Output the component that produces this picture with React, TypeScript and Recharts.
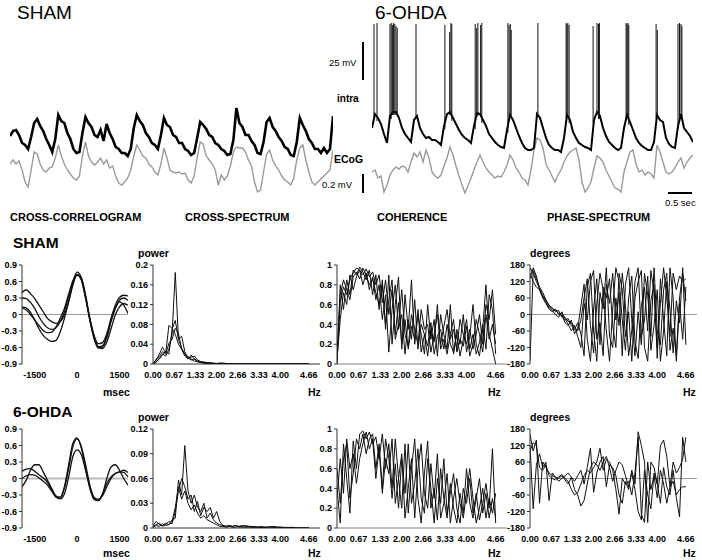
import React from "react";
import { LineChart, Line, XAxis, YAxis, ReferenceLine } from "recharts";

const FONT = "'Liberation Sans', Arial, Helvetica, sans-serif";

// ---------- top recordings (height above the trace floor) ----------
const SHAM_INTRA = [
  64, 69, 70, 65, 57, 55, 51, 63, 77, 81,
  74, 69, 61, 55, 48, 61, 85, 79, 77, 67,
  61, 51, 47, 48, 67, 83, 77, 73, 65, 63,
  70, 59, 76, 67, 61, 53, 51, 47, 47, 44,
  51, 72, 85, 79, 75, 67, 63, 57, 55, 51,
  65, 82, 75, 73, 65, 63, 57, 57, 51, 49,
  45, 47, 62, 78, 75, 71, 65, 63, 57, 55,
  51, 49, 45, 46, 60, 92, 77, 73, 65, 65,
  59, 55, 47, 46, 58, 78, 82, 73, 69, 63,
  59, 53, 51, 45, 44, 58, 82, 75, 69, 61,
  57, 51, 51, 47, 52, 47, 51, 84,
];
const SHAM_ECOG = [
  36, 40, 36, 39, 30, 18, 13, 30, 48, 46,
  36, 30, 28, 32, 33, 42, 55, 44, 36, 30,
  26, 22, 20, 24, 44, 58, 44, 38, 35, 38,
  42, 36, 40, 32, 34, 24, 17, 15, 18, 22,
  30, 44, 55, 50, 44, 42, 36, 33, 28, 25,
  36, 52, 42, 30, 28, 27, 28, 26, 27, 20,
  17, 24, 42, 58, 56, 44, 40, 36, 30, 15,
  25, 20, 24, 34, 48, 53, 52, 52, 48, 40,
  34, 18, 8, 10, 28, 46, 50, 40, 34, 30,
  24, 20, 18, 15, 22, 40, 52, 55, 40, 28,
  18, 15, 18, 21, 24, 27, 30, 50,
];
const OHDA_INTRA = [
  72, 86, 82, 76, 66, 57, 84, 88, 88, 82,
  72, 66, 62, 58, 80, 84, 72, 66, 62, 63,
  60, 60, 58, 55, 74, 86, 88, 82, 76, 70,
  65, 62, 60, 57, 74, 87, 86, 80, 74, 66,
  62, 58, 55, 53, 52, 70, 85, 80, 72, 64,
  57, 52, 50, 50, 52, 86, 82, 72, 62, 55,
  52, 50, 50, 48, 62, 85, 80, 68, 62, 57,
  55, 53, 52, 50, 80, 88, 84, 72, 64, 58,
  55, 52, 50, 52, 72, 85, 78, 70, 62, 57,
  54, 52, 50, 50, 58, 85, 80, 78, 62, 56,
  53, 52, 74, 86, 72, 68, 64, 58,
];
const OHDA_ECOG = [
  28, 30, 22, 24, 8, 15, 25, 30, 33, 31,
  34, 33, 28, 38, 47, 43, 48, 38, 50, 42,
  28, 24, 22, 25, 34, 42, 53, 45, 34, 24,
  15, 7, 14, 22, 30, 38, 45, 38, 32, 28,
  25, 22, 24, 23, 28, 35, 45, 40, 32, 28,
  22, 20, 15, 30, 50, 62, 60, 52, 36, 30,
  24, 18, 25, 30, 38, 44, 48, 50, 52, 40,
  18, 8, 12, 18, 32, 44, 42, 38, 30, 24,
  18, 12, 11, 8, 28, 38, 48, 50, 36, 28,
  30, 25, 28, 26, 22, 55, 48, 38, 28, 26,
  28, 32, 38, 42, 32, 38, 42, 45,
];
const SPIKE_X = [
  0.67, 1.67, 6.0, 6.4, 6.8, 7.2, 7.6, 8.0, 8.4, 14.67,
  24.3, 25.9, 26.3, 26.6, 34.4, 34.9, 35.3, 36.2, 36.6, 45.3,
  45.7, 46.1, 46.4, 55.3, 64.7, 65.0, 65.3, 65.7, 73.7, 75.0,
  75.5, 75.8, 84.7, 85.0, 85.3, 85.6, 94.7, 95.1, 102.0, 102.5,
  103.0, 103.3,
];
const SPIKE_TOP = [
  176, 177, 176, 177, 175, 177, 176, 174, 172, 176,
  175, 168, 177, 176, 176, 172, 177, 175, 177, 177,
  175, 176, 170, 177, 177, 176, 177, 175, 174, 177,
  176, 177, 177, 176, 177, 175, 176, 170, 176, 177,
  176, 174,
];

// ---------- cross-correlograms ----------
const LAGS = [
  -1950, -1800, -1650, -1500, -1350, -1200, -1050, -900, -750, -600,
  -450, -300, -150, 0, 150, 300, 450, 600, 750, 900,
  1050, 1200, 1350, 1500, 1650, 1800,
];
const LAG_TICKS = [-1500, 0, 1500];
const CORR_SHAM = [
  [0.4, 0.45, 0.38, 0.29, 0.17, 0.05, -0.07, -0.13, -0.16, -0.13, -0.01, 0.23, 0.54, 0.73, 0.63, 0.29, -0.07, -0.38, -0.53, -0.51, -0.35, -0.07, 0.17, 0.31, 0.35, 0.34],
  [0.3, 0.29, 0.22, 0.11, -0.04, -0.16, -0.24, -0.27, -0.24, -0.13, 0.05, 0.32, 0.6, 0.77, 0.67, 0.32, -0.1, -0.41, -0.59, -0.57, -0.41, -0.13, 0.11, 0.26, 0.3, 0.26],
  [0.14, 0.12, 0.04, -0.1, -0.26, -0.38, -0.45, -0.49, -0.47, -0.32, -0.07, 0.23, 0.55, 0.72, 0.66, 0.35, -0.07, -0.41, -0.59, -0.62, -0.5, -0.26, -0.01, 0.14, 0.2, 0.17],
  [0.12, 0.08, 0.0, -0.1, -0.2, -0.29, -0.33, -0.32, -0.23, -0.07, 0.11, 0.37, 0.61, 0.71, 0.63, 0.31, -0.1, -0.44, -0.61, -0.59, -0.41, -0.1, 0.11, 0.23, 0.17, 0.02],
];
const CORR_OHDA = [
  [0.13, 0.17, 0.18, 0.13, 0.07, 0.01, -0.07, -0.21, -0.34, -0.36, -0.18, 0.18, 0.58, 0.72, 0.58, 0.25, -0.12, -0.34, -0.38, -0.31, -0.15, 0.0, 0.09, 0.12, 0.15, 0.11],
  [-0.15, -0.03, 0.15, 0.25, 0.25, 0.12, -0.03, -0.18, -0.32, -0.37, -0.28, 0.03, 0.4, 0.52, 0.43, 0.15, -0.15, -0.37, -0.4, -0.28, 0.0, 0.21, 0.25, 0.15, 0.0, -0.12],
  [0.0, 0.05, 0.07, 0.06, 0.01, -0.05, -0.12, -0.23, -0.32, -0.34, -0.15, 0.25, 0.64, 0.74, 0.55, 0.18, -0.18, -0.38, -0.4, -0.28, -0.09, 0.03, 0.09, 0.12, 0.11, 0.03],
];

// ---------- frequency domain ----------
const FREQS = [
  0, 0.1, 0.2, 0.3, 0.4, 0.5, 0.6, 0.7, 0.8, 0.9,
  1.0, 1.1, 1.2, 1.3, 1.4, 1.5, 1.6, 1.7, 1.8, 1.9,
  2.0, 2.1, 2.2, 2.3, 2.4, 2.5, 2.6, 2.7, 2.8, 2.9,
  3.0, 3.1, 3.2, 3.3, 3.4, 3.5, 3.6, 3.7, 3.8, 3.9,
  4.0, 4.1, 4.2, 4.3, 4.4, 4.5, 4.6, 4.7, 4.8, 4.9,
];
const FREQ_TICKS = [0, 0.667, 1.333, 2.0, 2.667, 3.333, 4.0, 4.9];
const FREQ_LABELS = ["0.00", "0.67", "1.33", "2.00", "2.66", "3.33", "4.00", "4.66"];

const SPEC_SHAM = [
  [0, 0.004, 0.01, 0.02, 0.016, 0.03, 0.06, 0.185, 0.05, 0.032, 0.02, 0.012, 0.014, 0.016, 0.008, 0.005, 0.004, 0.003, 0.002, 0.002, 0.001, 0.001, 0.002, 0.001, 0.001, 0.001, 0.001, 0, 0.001, 0, 0.001, 0, 0, 0.001, 0, 0, 0, 0.001, 0, 0, 0, 0, 0.001, 0, 0, 0, 0, 0, 0, 0],
  [0, 0.008, 0.02, 0.034, 0.022, 0.078, 0.072, 0.06, 0.04, 0.03, 0.016, 0.01, 0.018, 0.01, 0.006, 0.004, 0.003, 0.002, 0.002, 0.001, 0.001, 0.002, 0.001, 0.001, 0, 0.001, 0, 0.001, 0, 0, 0, 0.001, 0, 0, 0, 0, 0.001, 0, 0, 0, 0, 0, 0, 0, 0, 0.001, 0, 0, 0, 0],
  [0, 0.004, 0.012, 0.018, 0.026, 0.02, 0.07, 0.088, 0.05, 0.056, 0.025, 0.012, 0.008, 0.01, 0.006, 0.004, 0.002, 0.003, 0.001, 0.001, 0.001, 0.001, 0, 0.001, 0, 0, 0.001, 0, 0, 0, 0, 0, 0.001, 0, 0, 0, 0, 0, 0, 0, 0, 0, 0, 0, 0, 0, 0, 0, 0, 0],
  [0, 0.01, 0.015, 0.025, 0.02, 0.042, 0.05, 0.072, 0.062, 0.03, 0.02, 0.015, 0.01, 0.006, 0.004, 0.003, 0.002, 0.001, 0.002, 0.001, 0.001, 0, 0.001, 0, 0, 0.001, 0, 0, 0, 0, 0, 0, 0, 0, 0.001, 0, 0, 0, 0, 0, 0, 0, 0, 0, 0, 0, 0, 0, 0, 0],
];
const SPEC_OHDA = [
  [0.003, 0.008, 0.004, 0.003, 0.006, 0.004, 0.01, 0.012, 0.058, 0.04, 0.1, 0.045, 0.03, 0.04, 0.025, 0.02, 0.03, 0.012, 0.018, 0.01, 0.006, 0.004, 0.003, 0.002, 0.003, 0.002, 0.003, 0.002, 0.003, 0.002, 0.002, 0.001, 0.002, 0.001, 0.001, 0.001, 0.001, 0.002, 0.001, 0.001, 0.001, 0, 0.001, 0, 0.001, 0, 0, 0, 0, 0],
  [0.002, 0.004, 0.006, 0.002, 0.004, 0.008, 0.005, 0.02, 0.045, 0.06, 0.05, 0.035, 0.04, 0.02, 0.032, 0.015, 0.025, 0.02, 0.025, 0.012, 0.02, 0.008, 0.003, 0.002, 0.003, 0.002, 0.003, 0.001, 0.002, 0.003, 0.002, 0.002, 0.001, 0.001, 0.002, 0.001, 0.001, 0.001, 0.002, 0.001, 0.001, 0.001, 0, 0.001, 0, 0, 0, 0, 0, 0],
  [0.001, 0.003, 0.002, 0.005, 0.003, 0.004, 0.008, 0.025, 0.05, 0.035, 0.045, 0.03, 0.022, 0.028, 0.018, 0.012, 0.015, 0.01, 0.008, 0.006, 0.004, 0.002, 0.002, 0.001, 0.002, 0.001, 0.001, 0.002, 0.001, 0.001, 0.001, 0.001, 0, 0.001, 0, 0.001, 0, 0, 0.001, 0, 0, 0, 0, 0, 0, 0, 0, 0, 0, 0],
];

const COH_SHAM = [
  [0.02, 0.62, 0.78, 0.7, 0.86, 0.92, 0.97, 0.95, 0.9, 0.96, 0.88, 0.93, 0.8, 0.9, 0.62, 0.85, 0.5, 0.75, 0.3, 0.62, 0.2, 0.45, 0.15, 0.38, 0.25, 0.55, 0.12, 0.3, 0.18, 0.42, 0.1, 0.28, 0.35, 0.15, 0.4, 0.2, 0.12, 0.3, 0.08, 0.25, 0.45, 0.15, 0.3, 0.1, 0.22, 0.4, 0.15, 0.7, 0.55, 0.1],
  [0.0, 0.8, 0.55, 0.85, 0.7, 0.95, 0.9, 0.98, 0.93, 0.85, 0.95, 0.7, 0.9, 0.55, 0.85, 0.35, 0.9, 0.2, 0.6, 0.88, 0.15, 0.7, 0.35, 0.85, 0.2, 0.5, 0.3, 0.1, 0.6, 0.25, 0.45, 0.08, 0.5, 0.3, 0.15, 0.6, 0.1, 0.35, 0.2, 0.5, 0.12, 0.28, 0.6, 0.2, 0.08, 0.35, 0.8, 0.3, 0.15, 0.0],
  [0.05, 0.45, 0.72, 0.6, 0.9, 0.75, 0.88, 0.95, 0.8, 0.92, 0.75, 0.88, 0.65, 0.8, 0.45, 0.7, 0.12, 0.55, 0.8, 0.35, 0.5, 0.1, 0.45, 0.25, 0.65, 0.15, 0.4, 0.3, 0.08, 0.35, 0.22, 0.6, 0.15, 0.25, 0.1, 0.3, 0.45, 0.12, 0.25, 0.18, 0.38, 0.08, 0.2, 0.45, 0.3, 0.12, 0.5, 0.25, 0.4, 0.2],
  [0.1, 0.7, 0.85, 0.75, 0.65, 0.88, 0.93, 0.86, 0.97, 0.9, 0.8, 0.86, 0.72, 0.6, 0.8, 0.4, 0.65, 0.85, 0.25, 0.4, 0.75, 0.3, 0.18, 0.5, 0.35, 0.2, 0.55, 0.35, 0.4, 0.12, 0.3, 0.5, 0.2, 0.38, 0.55, 0.25, 0.35, 0.15, 0.45, 0.3, 0.2, 0.35, 0.15, 0.3, 0.5, 0.2, 0.6, 0.45, 0.75, 0.3],
];
const COH_OHDA = [
  [0.4, 0.05, 0.85, 0.5, 0.15, 0.88, 0.6, 0.95, 0.98, 0.9, 0.97, 0.85, 0.92, 0.7, 0.95, 0.6, 0.85, 0.4, 0.9, 0.5, 0.2, 0.85, 0.15, 0.6, 0.9, 0.3, 0.05, 0.55, 0.88, 0.2, 0.4, 0.08, 0.6, 0.3, 0.1, 0.45, 0.2, 0.05, 0.35, 0.15, 0.6, 0.25, 0.1, 0.3, 0.5, 0.15, 0.35, 0.1, 0.3, 0.1],
  [0.6, 0.25, 0.7, 0.85, 0.3, 0.55, 0.9, 0.8, 0.95, 0.75, 0.9, 0.95, 0.6, 0.85, 0.4, 0.9, 0.7, 0.3, 0.65, 0.2, 0.7, 0.35, 0.85, 0.25, 0.45, 0.8, 0.3, 0.15, 0.7, 0.4, 0.05, 0.5, 0.25, 0.7, 0.15, 0.35, 0.55, 0.2, 0.05, 0.4, 0.25, 0.5, 0.15, 0.35, 0.08, 0.25, 0.45, 0.2, 0.8, 0.05],
  [0.3, 0.7, 0.35, 0.9, 0.6, 0.75, 0.45, 0.7, 0.85, 0.97, 0.8, 0.9, 0.5, 0.8, 0.35, 0.7, 0.55, 0.9, 0.25, 0.5, 0.75, 0.1, 0.4, 0.7, 0.1, 0.6, 0.85, 0.35, 0.2, 0.65, 0.3, 0.75, 0.1, 0.25, 0.55, 0.05, 0.3, 0.5, 0.25, 0.1, 0.35, 0.6, 0.3, 0.05, 0.2, 0.4, 0.1, 0.3, 0.15, 0.35],
];

const PHASE_SHAM = [
  [170, 150, 120, 95, 70, 50, 35, 20, 15, 5, -5, -10, -25, -30, -45, -60, -20, 60, 130, -40, -140, 40, 150, 90, -60, -170, 20, 170, 120, -20, -130, 60, 140, -100, -160, 30, 100, -60, 160, 80, -120, 40, 170, 60, -80, 150, 90, 140, 120, 130],
  [-170, 160, 130, 100, 80, 55, 30, 25, 10, 15, -10, -20, -15, -40, -55, -30, -70, -150, 100, 150, -60, -170, 80, 20, 170, -80, -120, 60, -40, 150, 30, -150, -60, 120, 170, -80, -20, 140, -130, -40, 90, -170, -60, 120, 20, -140, 50, -30, 170, -110],
  [150, 120, 100, 90, 60, 40, 20, 10, 20, 0, 5, -30, -40, -20, -70, -50, 30, 110, -90, -170, 20, 130, -110, 100, 60, 130, -40, -120, 150, 90, -80, 10, -170, 60, 120, 160, -120, -170, 50, 110, -160, 130, -20, -150, 170, 60, -170, 40, -90, 100],
  [130, 170, 140, 90, 65, 45, 25, 15, 0, -10, 10, -15, -35, -60, -40, -80, -120, 40, -20, 120, 160, -90, -30, -150, 110, 40, 150, -20, 80, -150, 110, 170, -20, -150, 10, -110, 150, 70, -80, 170, -60, -110, 90, 150, -130, -50, -150, 60, 150, 50],
];
const PHASE_OHDA = [
  [160, 100, 140, -90, 60, 40, 20, 10, 5, 0, 10, -5, -20, 5, -40, -60, -100, -80, -20, 40, 60, 50, 30, 60, 80, 40, -10, 30, 60, 50, 10, -30, 20, -40, -120, -150, 30, -60, -110, 20, -20, -90, 40, -30, -60, 30, -70, -140, 150, 60],
  [100, 130, 120, 40, 30, 50, 10, 0, -5, 5, 15, 0, -10, -40, -60, -50, -20, 10, 30, 20, 40, 60, 110, 30, 70, 60, 30, -40, -130, 0, -20, -10, -60, 20, 150, -130, -160, 60, -40, 10, -70, 30, -20, -90, -30, -10, -60, -40, -30, -30],
  [120, -110, 50, 90, 40, 60, -80, 20, 5, -10, 0, 10, 20, 5, -10, 10, 30, -20, 40, 110, -50, 20, 60, 80, -30, 50, 40, 10, -60, -90, -10, -40, 30, -20, 170, 120, 60, -160, 60, 40, -20, 120, 140, 80, -30, 60, 20, 40, 70, 150],
];

const CORR_TICKS = [-0.9, -0.6, -0.3, 0, 0.3, 0.6, 0.9];
const SPEC_SHAM_TICKS = [0, 0.04, 0.08, 0.12, 0.16, 0.2];
const SPEC_OHDA_TICKS = [0, 0.03, 0.06, 0.09, 0.12];
const COH_TICKS = [0, 0.2, 0.4, 0.6, 0.8, 1];
const PHASE_TICKS = [-180, -120, -60, 0, 60, 120, 180];

const tickStyle = { fontSize: 9, fontWeight: 700, fill: "#000", fontFamily: FONT };
const YW = 34;

interface PanelProps {
  plotLeft: number;
  plotTop: number;
  plotW: number;
  xs: number[];
  series: number[][];
  xDomain: [number, number];
  xTicks: number[];
  xLabels: string[];
  yDomain: [number, number];
  yTicks: number[];
  zeroStroke: string;
  zeroWidth: number;
  curve: "linear" | "monotone";
  lineWidth: number;
}

function Panel(p: PanelProps) {
  const plotH = 99;
  const rows = p.xs.map((x, i) => {
    const r: Record<string, number> = { x };
    p.series.forEach((s, j) => (r["s" + j] = s[i]));
    return r;
  });
  return (
    <div style={{ position: "absolute", left: p.plotLeft - YW, top: p.plotTop - 4 }}>
      <LineChart
        width={YW + p.plotW + 4}
        height={4 + plotH + 24}
        data={rows}
        margin={{ top: 4, right: 4, bottom: 0, left: 0 }}
      >
        <XAxis
          dataKey="x"
          type="number"
          domain={p.xDomain}
          ticks={p.xTicks}
          interval={0}
          tickFormatter={(v: number) => p.xLabels[p.xTicks.indexOf(v)]}
          axisLine={false}
          tickLine={false}
          height={24}
          tick={tickStyle}
          allowDataOverflow
        />
        <YAxis
          type="number"
          domain={p.yDomain}
          ticks={p.yTicks}
          interval={0}
          width={YW}
          tickSize={3}
          tickMargin={2}
          axisLine={{ stroke: "#333" }}
          tickLine={{ stroke: "#333" }}
          tick={tickStyle}
          allowDataOverflow
        />
        <ReferenceLine y={0} stroke={p.zeroStroke} strokeWidth={p.zeroWidth} />
        {p.series.map((_, j) => (
          <Line
            key={j}
            dataKey={"s" + j}
            type={p.curve}
            stroke="#111"
            strokeWidth={p.lineWidth}
            dot={false}
            isAnimationActive={false}
          />
        ))}
      </LineChart>
    </div>
  );
}

function Txt({ x, base, size, bold, children }: { x: number; base: number; size: number; bold?: boolean; children: React.ReactNode }) {
  return (
    <div
      style={{
        position: "absolute",
        left: x,
        top: base - 0.85 * size,
        fontSize: size,
        lineHeight: 1,
        fontWeight: bold ? 700 : 400,
        fontFamily: FONT,
        whiteSpace: "nowrap",
        color: "#000",
      }}
    >
      {children}
    </div>
  );
}

function Bar({ x, y, w, h }: { x: number; y: number; w: number; h: number }) {
  return <div style={{ position: "absolute", left: x, top: y, width: w, height: h, background: "#000" }} />;
}

function Row({ top, corr, spec, specTicks, coh, phase }: { top: number; corr: number[][]; spec: number[][]; specTicks: number[]; coh: number[][]; phase: number[][] }) {
  const specMax = specTicks[specTicks.length - 1];
  const corrZero = top > 400 ? { s: "#bbb", w: 2 } : { s: "#999", w: 1 };
  return (
    <>
      <Panel plotLeft={22} plotTop={top} plotW={106} xs={LAGS} series={corr} xDomain={[-1950, 1800]} xTicks={LAG_TICKS} xLabels={LAG_TICKS.map(String)} yDomain={[-0.9, 0.9]} yTicks={CORR_TICKS} zeroStroke={corrZero.s} zeroWidth={corrZero.w} curve="monotone" lineWidth={1.3} />
      <Panel plotLeft={153} plotTop={top} plotW={167} xs={FREQS} series={spec} xDomain={[0, 5.25]} xTicks={FREQ_TICKS} xLabels={FREQ_LABELS} yDomain={[0, specMax]} yTicks={specTicks} zeroStroke="#333" zeroWidth={1} curve="linear" lineWidth={1} />
      <Panel plotLeft={337} plotTop={top} plotW={170} xs={FREQS} series={coh} xDomain={[0, 5.25]} xTicks={FREQ_TICKS} xLabels={FREQ_LABELS} yDomain={[0, 1]} yTicks={COH_TICKS} zeroStroke="#aaa" zeroWidth={1.5} curve="linear" lineWidth={1} />
      <Panel plotLeft={530} plotTop={top} plotW={167} xs={FREQS} series={phase} xDomain={[0, 5.25]} xTicks={FREQ_TICKS} xLabels={FREQ_LABELS} yDomain={[-180, 180]} yTicks={PHASE_TICKS} zeroStroke="#999" zeroWidth={1} curve="linear" lineWidth={1} />
    </>
  );
}

export default function App() {
  const shamRows = SHAM_INTRA.map((v, i) => ({ x: i, a: v, b: SHAM_ECOG[i] }));
  const ohdaRows = OHDA_INTRA.map((v, i) => ({ x: i, a: v, b: OHDA_ECOG[i] }));
  return (
    <div style={{ position: "absolute", left: 0, top: 0, width: 702, height: 560, background: "#fff", overflow: "hidden" }}>
      <Txt x={17} base={19} size={19}>SHAM</Txt>
      <Txt x={375} base={19} size={19}>6-OHDA</Txt>

      <div style={{ position: "absolute", left: 10, top: 100 }}>
        <LineChart width={323} height={100} data={shamRows} margin={{ top: 0, right: 0, bottom: 0, left: 0 }}>
          <XAxis dataKey="x" type="number" domain={[0, SHAM_INTRA.length - 1]} hide />
          <YAxis type="number" domain={[0, 100]} hide />
          <Line dataKey="b" type="linear" stroke="#9a9a9a" strokeWidth={1.4} dot={false} isAnimationActive={false} />
          <Line dataKey="a" type="linear" stroke="#000" strokeWidth={2.6} dot={false} isAnimationActive={false} />
        </LineChart>
      </div>

      <div style={{ position: "absolute", left: 372, top: 15 }}>
        <LineChart width={321} height={185} data={ohdaRows} margin={{ top: 0, right: 0, bottom: 0, left: 0 }}>
          <XAxis dataKey="x" type="number" domain={[0, OHDA_INTRA.length - 1]} hide />
          <YAxis type="number" domain={[0, 185]} hide />
          <Line dataKey="b" type="linear" stroke="#9a9a9a" strokeWidth={1.4} dot={false} isAnimationActive={false} />
          <Line dataKey="a" type="linear" stroke="#000" strokeWidth={2} dot={false} isAnimationActive={false} />
          {SPIKE_X.map((sx, k) => (
            <ReferenceLine
              key={k}
              segment={[
                { x: sx, y: OHDA_INTRA[Math.round(sx)] - 3 },
                { x: sx, y: SPIKE_TOP[k] },
              ]}
              stroke="#111"
              strokeWidth={1}
            />
          ))}
        </LineChart>
      </div>

      <Txt x={329} base={66} size={9.5}>25 mV</Txt>
      <Bar x={362} y={42} w={2} h={38} />
      <Txt x={337} base={102} size={10} bold>intra</Txt>
      <Txt x={334} base={163} size={10.5} bold>ECoG</Txt>
      <Txt x={322} base={188} size={9.5}>0.2 mV</Txt>
      <Bar x={362} y={174} w={2} h={19} />
      <Bar x={668} y={192} w={24} h={2} />
      <Txt x={665} base={206} size={9.5}>0.5 sec</Txt>

      <Txt x={10} base={221} size={11} bold>CROSS-CORRELOGRAM</Txt>
      <Txt x={185} base={221} size={11} bold>CROSS-SPECTRUM</Txt>
      <Txt x={377} base={221} size={11} bold>COHERENCE</Txt>
      <Txt x={547} base={221} size={11} bold>PHASE-SPECTRUM</Txt>

      <Txt x={13} base={248} size={15.5} bold>SHAM</Txt>
      <Txt x={138} base={257} size={10.5} bold>power</Txt>
      <Txt x={530} base={257} size={10.5} bold>degrees</Txt>
      <Row top={265} corr={CORR_SHAM} spec={SPEC_SHAM} specTicks={SPEC_SHAM_TICKS} coh={COH_SHAM} phase={PHASE_SHAM} />
      <Txt x={103} base={396} size={10.5} bold>msec</Txt>
      <Txt x={308} base={396} size={10.5} bold>Hz</Txt>
      <Txt x={488} base={396} size={10.5} bold>Hz</Txt>
      <Txt x={683} base={396} size={10.5} bold>Hz</Txt>

      <Txt x={13} base={417} size={15.5} bold>6-OHDA</Txt>
      <Txt x={138} base={421} size={10.5} bold>power</Txt>
      <Txt x={530} base={421} size={10.5} bold>degrees</Txt>
      <Row top={429} corr={CORR_OHDA} spec={SPEC_OHDA} specTicks={SPEC_OHDA_TICKS} coh={COH_OHDA} phase={PHASE_OHDA} />
      <Txt x={103} base={557} size={10.5} bold>msec</Txt>
      <Txt x={308} base={557} size={10.5} bold>Hz</Txt>
      <Txt x={488} base={557} size={10.5} bold>Hz</Txt>
      <Txt x={683} base={557} size={10.5} bold>Hz</Txt>
    </div>
  );
}
